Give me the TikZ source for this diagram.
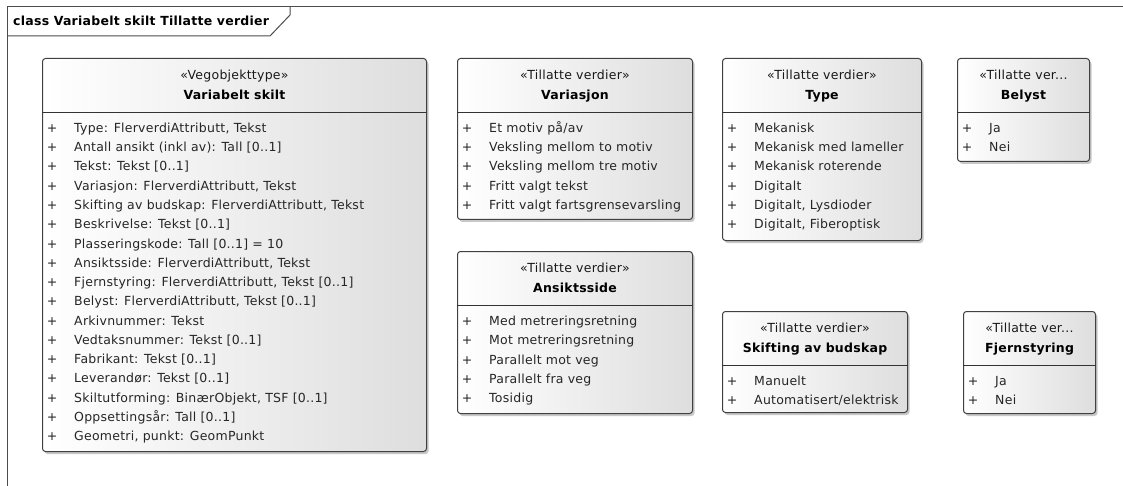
\documentclass[tikz,border=0pt]{standalone}
\usepackage{fontspec}
\setmainfont{DejaVu Sans}[LetterSpace=2]
\usetikzlibrary{shadows}
\tikzset{
  umlbox/.style={draw=black!75, line width=1pt, rounded corners=3pt, anchor=north west,
    left color=white, right color=black!13,
    drop shadow={shadow xshift=2pt, shadow yshift=-2.5pt, opacity=0.3, fill=black!70}},
  divider/.style={draw=black!80, line width=1pt},
  stereo/.style={inner sep=0pt, anchor=base, font=\fontsize{12.5}{14}\selectfont, text=black!90},
  classtitle/.style={inner sep=0pt, anchor=base, font=\fontsize{12.5}{14}\selectfont\bfseries, text=black},
  plus/.style={inner sep=0pt, anchor=base, font=\fontsize{12.5}{14}\selectfont, text=black!85},
  item/.style={inner sep=0pt, anchor=base west, font=\fontsize{12.5}{14}\selectfont, text=black!85},
  frameline/.style={draw=black!70, line width=1pt},
}
\newcommand\umlbox[8]{%
  \node[umlbox, minimum width=#4pt, minimum height=#5pt] (#1) at (#2,#3) {};
  \draw[divider] ([yshift=-54.5pt]#1.north west) -- ([yshift=-54.5pt]#1.north east);
  \node[stereo] (#1-st) at ([yshift=-21.7pt]#1.north) {#6};
  \node[classtitle] (#1-ti) at ([yshift=-41.7pt]#1.north) {#7};
  \foreach \itm [count=\i] in {#8} {
    \node[plus] (#1-p\i) at ([xshift=10pt, yshift={-(74.5+(\i-1)*19.25)}]#1.north west) {+};
    \node[item] (#1-i\i) at ([xshift=32pt, yshift={-(74.5+(\i-1)*19.25)}]#1.north west) {\itm};
  }
}
\begin{document}
\begin{tikzpicture}[x=1pt, y=-1pt]
\useasboundingbox (0,0) rectangle (1123,486);
\fill[white] (0,0) rectangle (1123,486);
% frame
\draw[frameline] (7,490) -- (7,7) -- (1130,7);
\draw[frameline] (7,36) -- (270,36) -- (290,15) -- (290,7);
\node[inner sep=0pt, anchor=base west, font=\fontsize{12.5}{14}\selectfont\bfseries] (frametitle) at (13,26) {class Variabelt skilt Tillatte verdier};

\umlbox{main}{42}{58}{384}{393}{«Vegobjekttype»}{Variabelt skilt}{
 {Type: FlerverdiAttributt, Tekst},
 {Antall ansikt (inkl av): Tall [0..1]},
 {Tekst: Tekst [0..1]},
 {Variasjon: FlerverdiAttributt, Tekst},
 {Skifting av budskap: FlerverdiAttributt, Tekst},
 {Beskrivelse: Tekst [0..1]},
 {Plasseringskode: Tall [0..1] = 10},
 {Ansiktsside: FlerverdiAttributt, Tekst},
 {Fjernstyring: FlerverdiAttributt, Tekst [0..1]},
 {Belyst: FlerverdiAttributt, Tekst [0..1]},
 {Arkivnummer: Tekst},
 {Vedtaksnummer: Tekst [0..1]},
 {Fabrikant: Tekst [0..1]},
 {Leverandør: Tekst [0..1]},
 {Skiltutforming: BinærObjekt, TSF [0..1]},
 {Oppsettingsår: Tall [0..1]},
 {Geometri, punkt: GeomPunkt}}

\umlbox{var}{457}{58}{235}{161}{«Tillatte verdier»}{Variasjon}{
 {Et motiv på/av},
 {Veksling mellom to motiv},
 {Veksling mellom tre motiv},
 {Fritt valgt tekst},
 {Fritt valgt fartsgrensevarsling}}

\umlbox{ans}{457}{251}{235}{162}{«Tillatte verdier»}{Ansiktsside}{
 {Med metreringsretning},
 {Mot metreringsretning},
 {Parallelt mot veg},
 {Parallelt fra veg},
 {Tosidig}}

\umlbox{type}{722}{58}{199}{182}{«Tillatte verdier»}{Type}{
 {Mekanisk},
 {Mekanisk med lameller},
 {Mekanisk roterende},
 {Digitalt},
 {Digitalt, Lysdioder},
 {Digitalt, Fiberoptisk}}

\umlbox{bel}{957}{58}{132}{103}{«Tillatte ver...}{Belyst}{
 {Ja},
 {Nei}}

\umlbox{skif}{722}{311}{185}{101}{«Tillatte verdier»}{Skifting av budskap}{
 {Manuelt},
 {Automatisert/elektrisk}}

\umlbox{fjern}{963}{311}{132}{102}{«Tillatte ver...}{Fjernstyring}{
 {Ja},
 {Nei}}
\end{tikzpicture}
\end{document}
